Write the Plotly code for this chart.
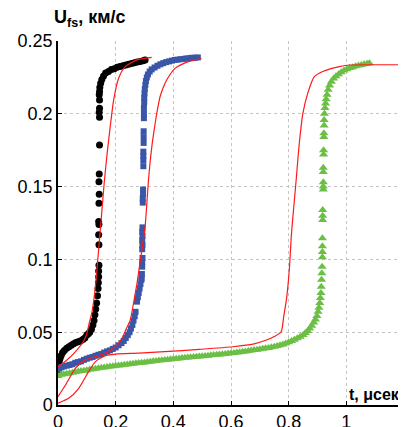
import plotly.graph_objects as go

# ---------------- data ----------------
black_t = [0.000, 0.002, 0.004, 0.007, 0.011, 0.016, 0.022, 0.030, 0.038, 0.046,
           0.054, 0.062, 0.070, 0.078, 0.086, 0.093, 0.100, 0.105, 0.110, 0.116,
           0.121, 0.125, 0.128, 0.131, 0.134, 0.137, 0.139, 0.140, 0.141, 0.141,
           0.142, 0.142, 0.141, 0.142, 0.141, 0.142, 0.143, 0.142, 0.143, 0.144,
           0.144, 0.143, 0.144, 0.144, 0.143, 0.144, 0.145, 0.148, 0.152, 0.158,
           0.165, 0.175, 0.185, 0.195, 0.205, 0.215, 0.225, 0.235, 0.245, 0.255,
           0.265, 0.275, 0.285, 0.295, 0.302]
black_u = [0.024, 0.027, 0.030, 0.032, 0.034, 0.036, 0.0375, 0.039, 0.040, 0.041,
           0.042, 0.043, 0.0435, 0.044, 0.045, 0.046, 0.048, 0.049, 0.050, 0.052,
           0.055, 0.058, 0.062, 0.066, 0.070, 0.075, 0.080, 0.084, 0.088, 0.092,
           0.096, 0.110, 0.117, 0.124, 0.126, 0.1385, 0.1447, 0.1534, 0.1587, 0.1786,
           0.1976, 0.2010, 0.2038, 0.2095, 0.2130, 0.2152, 0.2180, 0.2210, 0.2235, 0.2260,
           0.2280, 0.2290, 0.2305, 0.2310, 0.2320, 0.2325, 0.2330, 0.2335, 0.2340, 0.2345,
           0.2350, 0.2355, 0.2360, 0.2365, 0.2370]

blue_t = [0.000, 0.005, 0.012, 0.020, 0.030, 0.040, 0.050, 0.060, 0.070, 0.080,
          0.090, 0.100, 0.110, 0.120, 0.130, 0.140, 0.150, 0.160, 0.170, 0.180,
          0.190, 0.200, 0.210, 0.220, 0.228, 0.235, 0.242, 0.248, 0.253, 0.258,
          0.262, 0.266, 0.269, 0.274, 0.277, 0.280, 0.283, 0.286, 0.289, 0.290,
          0.291, 0.292, 0.292, 0.293, 0.292, 0.293, 0.292, 0.293, 0.292, 0.293,
          0.294, 0.294, 0.295, 0.295, 0.296, 0.296, 0.296, 0.296, 0.297, 0.297,
          0.297, 0.298, 0.298, 0.298, 0.299, 0.299, 0.300, 0.301, 0.303, 0.305,
          0.308, 0.312, 0.318, 0.325, 0.335, 0.345, 0.355, 0.365, 0.375, 0.385,
          0.395, 0.405, 0.415, 0.425, 0.435, 0.445, 0.455, 0.465, 0.475, 0.485]
blue_u = [0.0245, 0.025, 0.026, 0.0265, 0.027, 0.0275, 0.028, 0.029, 0.0295, 0.030,
          0.031, 0.0318, 0.0325, 0.033, 0.0338, 0.0345, 0.035, 0.036, 0.0368, 0.0375,
          0.0385, 0.0395, 0.041, 0.0425, 0.044, 0.046, 0.048, 0.050, 0.0525, 0.055,
          0.058, 0.061, 0.064, 0.071, 0.074, 0.077, 0.080, 0.083, 0.086, 0.087,
          0.090, 0.095, 0.098, 0.101, 0.107, 0.110, 0.113, 0.116, 0.119, 0.122,
          0.139, 0.142, 0.145, 0.148, 0.164, 0.168, 0.171, 0.174, 0.180, 0.184,
          0.188, 0.197, 0.200, 0.204, 0.208, 0.211, 0.214, 0.217, 0.220, 0.2225,
          0.225, 0.227, 0.229, 0.2305, 0.2318, 0.233, 0.234, 0.2348, 0.2355, 0.236,
          0.2365, 0.237, 0.2372, 0.2375, 0.2377, 0.238, 0.2382, 0.2385, 0.2385, 0.2387]

green_t = [0.000, 0.010, 0.020, 0.030, 0.040, 0.050, 0.060, 0.070, 0.080, 0.090,
           0.100, 0.110, 0.120, 0.130, 0.140, 0.150, 0.160, 0.170, 0.180, 0.190,
           0.200, 0.210, 0.220, 0.230, 0.240, 0.250, 0.260, 0.270, 0.280, 0.290,
           0.300, 0.310, 0.320, 0.330, 0.340, 0.350, 0.360, 0.370, 0.380, 0.390,
           0.400, 0.410, 0.420, 0.430, 0.440, 0.450, 0.460, 0.470, 0.480, 0.490,
           0.500, 0.510, 0.520, 0.530, 0.540, 0.550, 0.560, 0.570, 0.580, 0.590,
           0.600, 0.610, 0.620, 0.630, 0.640, 0.650, 0.660, 0.670, 0.680, 0.690,
           0.700, 0.710, 0.720, 0.730, 0.740, 0.750, 0.760, 0.770, 0.780, 0.790,
           0.800, 0.810, 0.820, 0.830, 0.840, 0.850, 0.858, 0.866, 0.873, 0.880,
           0.887, 0.893, 0.898, 0.902, 0.905, 0.908,
           0.910, 0.912, 0.913, 0.914, 0.915, 0.916, 0.917, 0.917, 0.917, 0.917,
           0.918, 0.918, 0.918, 0.920, 0.920, 0.920, 0.920, 0.920, 0.921, 0.921,
           0.922, 0.922, 0.923, 0.923, 0.924, 0.926, 0.928, 0.930, 0.933, 0.937,
           0.942, 0.948, 0.956, 0.964, 0.973, 0.982, 0.992, 1.002, 1.012, 1.022,
           1.032, 1.042, 1.052, 1.062, 1.072, 1.080]
green_u = [0.0200, 0.0208, 0.0212, 0.0215, 0.0218, 0.0222, 0.0226, 0.0230, 0.0233, 0.0236,
           0.0239, 0.0243, 0.0246, 0.0249, 0.0253, 0.0256, 0.0258, 0.0261, 0.0264, 0.0266,
           0.0269, 0.0271, 0.0273, 0.0276, 0.0278, 0.0281, 0.0283, 0.0286, 0.0288, 0.0290,
           0.0292, 0.0295, 0.0297, 0.0300, 0.0302, 0.0305, 0.0307, 0.0309, 0.0311, 0.0314,
           0.0316, 0.0318, 0.0320, 0.0322, 0.0324, 0.0326, 0.0328, 0.0330, 0.0332, 0.0333,
           0.0335, 0.0337, 0.0339, 0.0341, 0.0343, 0.0345, 0.0347, 0.0349, 0.0351, 0.0353,
           0.0356, 0.0358, 0.0361, 0.0363, 0.0366, 0.0368, 0.0371, 0.0374, 0.0377, 0.0380,
           0.0383, 0.0386, 0.0389, 0.0392, 0.0396, 0.0400, 0.0405, 0.0410, 0.0416, 0.0423,
           0.0431, 0.0439, 0.0448, 0.0458, 0.0469, 0.0481, 0.0494, 0.0509, 0.0525, 0.0545,
           0.0566, 0.0588, 0.0612, 0.0640, 0.0668, 0.0700,
           0.0735, 0.0770, 0.0813, 0.0860, 0.0905, 0.0950, 0.1015, 0.1050, 0.1090, 0.1145,
           0.1270, 0.1300, 0.1340, 0.1480, 0.1500, 0.1530, 0.1600, 0.1630, 0.1720, 0.1750,
           0.1840, 0.1866, 0.1920, 0.1957, 0.2000, 0.2040, 0.2070, 0.2100, 0.2130, 0.2165,
           0.2195, 0.2220, 0.2242, 0.2258, 0.2272, 0.2285, 0.2297, 0.2306, 0.2314, 0.2320,
           0.2326, 0.2331, 0.2336, 0.2340, 0.2344, 0.2347]

fit1_t = [0.000, 0.026, 0.060, 0.089, 0.100, 0.108, 0.118, 0.126, 0.132, 0.141,
          0.150, 0.160, 0.170, 0.181, 0.193, 0.210, 0.233, 0.274, 0.325]
fit1_u = [0.0263, 0.0300, 0.0365, 0.0440, 0.0490, 0.0560, 0.0640, 0.0750, 0.0860, 0.1070,
          0.1280, 0.1520, 0.1720, 0.1910, 0.2095, 0.2243, 0.2324, 0.2370, 0.2387]

fit2_t = [0.000, 0.026, 0.060, 0.095, 0.130, 0.164, 0.199, 0.222, 0.236, 0.250,
          0.262, 0.274, 0.283, 0.291, 0.302, 0.308, 0.314, 0.320, 0.327, 0.337,
          0.345, 0.354, 0.365, 0.377, 0.406, 0.452, 0.498]
fit2_u = [0.0057, 0.0137, 0.0252, 0.0310, 0.0332, 0.0355, 0.0400, 0.0458, 0.0520, 0.0580,
          0.0700, 0.0836, 0.0960, 0.1065, 0.1225, 0.1380, 0.1550, 0.1680, 0.1800, 0.1935,
          0.2030, 0.2117, 0.2180, 0.2232, 0.2312, 0.2358, 0.2380]

fit3_t = [0.000, 0.037, 0.072, 0.106, 0.130, 0.164, 0.200, 0.280, 0.370, 0.490,
          0.607, 0.680, 0.723, 0.750, 0.774, 0.783, 0.792, 0.798, 0.803, 0.809,
          0.815, 0.820, 0.826, 0.832, 0.838, 0.849, 0.866, 0.889, 0.918, 0.950,
          0.976, 1.010, 1.100, 1.200]
fit3_u = [0.0012, 0.0046, 0.0115, 0.0229, 0.0298, 0.0339, 0.0350, 0.0356, 0.0366, 0.0382,
          0.0400, 0.0420, 0.0446, 0.0470, 0.0503, 0.0610, 0.0720, 0.0830, 0.0950, 0.1156,
          0.1300, 0.1410, 0.1545, 0.1690, 0.1820, 0.2000, 0.2140, 0.2255, 0.2290, 0.2312,
          0.2324, 0.2335, 0.2337, 0.2337]

x_ticks = [0, 0.2, 0.4, 0.6, 0.8, 1]
x_tick_labels = ["0", "0.2", "0.4", "0.6", "0.8", "1"]
y_ticks = [0, 0.05, 0.1, 0.15, 0.2, 0.25]
y_tick_labels = ["0", "0.05", "0.1", "0.15", "0.2", "0.25"]

# ---------------- figure ----------------
FONT = "Liberation Sans, Arial, Helvetica, sans-serif"
BLACK = "#000000"
BLUE = "#3a56a8"
GREEN = "#6cbf45"
RED = "#ff1a1a"

fig = go.Figure()
fig.add_trace(go.Scatter(x=black_t, y=black_u, mode="markers",
                         marker=dict(symbol="circle", size=7, color=BLACK, line=dict(width=0))))
fig.add_trace(go.Scatter(x=blue_t, y=blue_u, mode="markers",
                         marker=dict(symbol="square", size=6, color=BLUE, line=dict(width=0))))
fig.add_trace(go.Scatter(x=green_t, y=green_u, mode="markers",
                         marker=dict(symbol="triangle-up", size=8, color=GREEN, line=dict(width=0))))
for tx, uy in [(fit1_t, fit1_u), (fit2_t, fit2_u), (fit3_t, fit3_u)]:
    fig.add_trace(go.Scatter(x=tx, y=uy, mode="lines",
                             line=dict(color=RED, width=1.2, shape="spline", smoothing=0.6)))

# page body has an 8px margin; figure is placed at (8, 8)
OFF = 8
W, H = 398, 427
L, T, B, R = 50, 33, 30, 2
axis_common = dict(showline=True, linecolor="black", linewidth=1.5,
                   ticks="inside", ticklen=4, tickcolor="black", tickwidth=1,
                   showgrid=True, gridcolor="#c4c4c4", gridwidth=1, griddash="dot",
                   zeroline=False, tickfont=dict(size=18), automargin=False)
fig.update_layout(
    width=W, height=H,
    margin=dict(l=L, r=R, t=T, b=B, autoexpand=False),
    paper_bgcolor="white", plot_bgcolor="white",
    showlegend=False,
    font=dict(family=FONT, size=18, color="black"),
    xaxis=dict(range=[0, 1.2], tickvals=x_ticks, ticktext=x_tick_labels, **axis_common),
    yaxis=dict(range=[0, 0.25], tickvals=y_ticks, ticktext=y_tick_labels, **axis_common),
)

pw = W - L - R
ph = H - T - B
def px_x(px):
    return (px - OFF - L) / pw
def px_y(py):
    return (H - B + OFF - py) / ph

fig.add_annotation(text="<b>U<sub>fs</sub>, км/с</b>", xref="paper", yref="paper",
                   x=px_x(52), y=px_y(32), xanchor="left", yanchor="bottom",
                   showarrow=False, font=dict(family=FONT, size=18, color="black"))
fig.add_annotation(text="<b>t, μсек</b>", xref="paper", yref="paper",
                   x=px_x(402), y=px_y(405), xanchor="right", yanchor="bottom",
                   showarrow=False, font=dict(family=FONT, size=16, color="black"))

fig.write_html("out.html")
